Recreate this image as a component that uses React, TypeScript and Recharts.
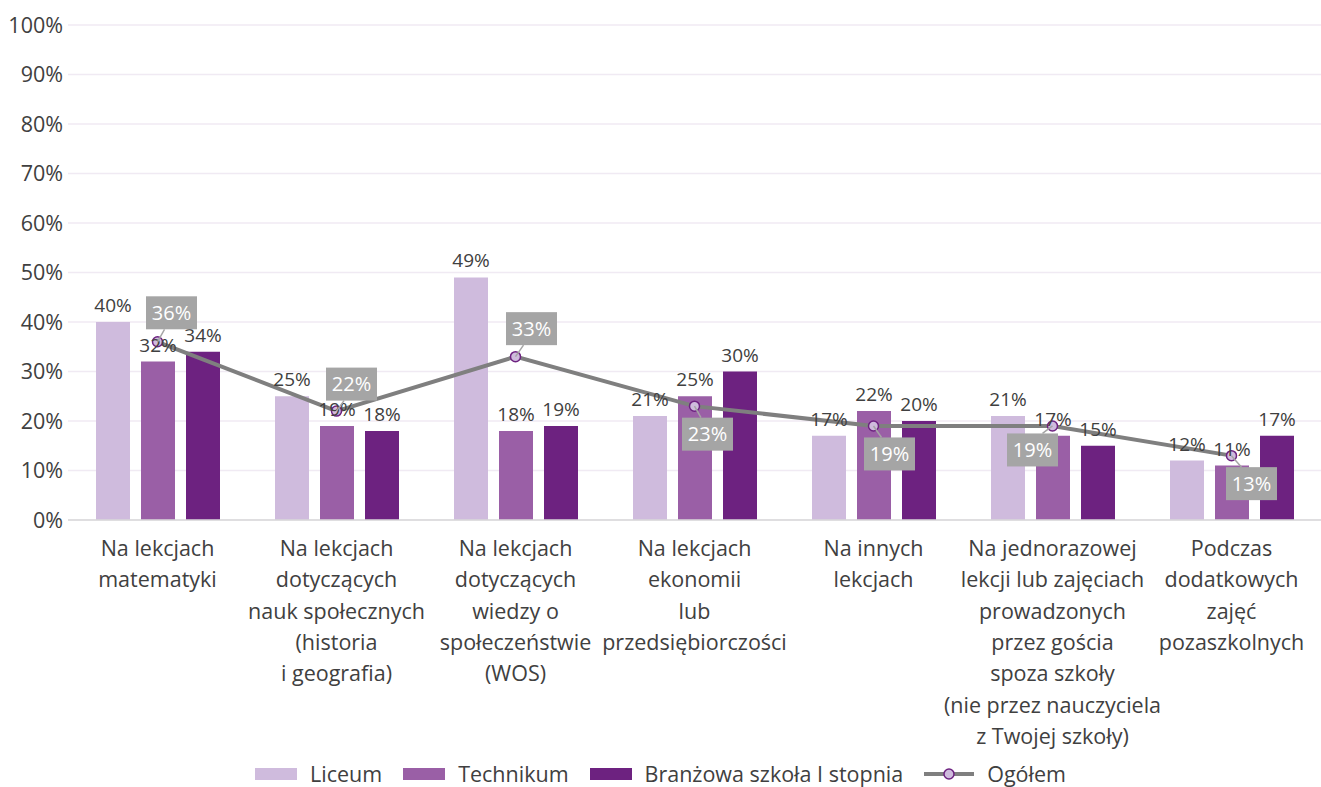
import React from "react";
import {
  ComposedChart,
  Bar,
  Line,
  XAxis,
  YAxis,
  CartesianGrid,
  LabelList,
  Legend,
} from "recharts";

const categories = [
  "Na lekcjach\nmatematyki",
  "Na lekcjach\ndotyczących\nnauk społecznych\n(historia\ni geografia)",
  "Na lekcjach\ndotyczących\nwiedzy o\nspołeczeństwie\n(WOS)",
  "Na lekcjach\nekonomii\nlub\nprzedsiębiorczości",
  "Na innych\nlekcjach",
  "Na jednorazowej\nlekcji lub zajęciach\nprowadzonych\nprzez gościa\nspoza szkoły\n(nie przez nauczyciela\nz Twojej szkoły)",
  "Podczas\ndodatkowych\nzajęć\npozaszkolnych",
];

const liceum = [40, 25, 49, 21, 17, 21, 12];
const technikum = [32, 19, 18, 25, 22, 17, 11];
const branzowa = [34, 18, 19, 30, 20, 15, 17];
const ogolem = [36, 22, 33, 23, 19, 19, 13];

const yTicks = [0, 10, 20, 30, 40, 50, 60, 70, 80, 90, 100];

// where the grey "Ogółem" boxes sit relative to their point
const boxOffsets = [
  [14, -29],
  [15, -27],
  [16, -28],
  [13, 28],
  [16, 28],
  [-20, 24],
  [20, 28],
];

const data = categories.map((name, i) => ({
  name,
  liceum: liceum[i],
  technikum: technikum[i],
  branzowa: branzowa[i],
  ogolem: ogolem[i],
}));

const C_LIC = "#cfbbdd";
const C_TECH = "#9a5fa6";
const C_BRAN = "#6d2280";
const C_LINE = "#7f7f7f";
const TEXT = "#404040";
const FONT = "'Open Sans', 'Noto Sans', sans-serif";

const CatTick = (props: any) => {
  const { x, y, payload } = props;
  const lines = String(payload.value).split("\n");
  return (
    <g transform={`translate(${x},${y})`}>
      {lines.map((l, i) => (
        <text
          key={i}
          x={0}
          y={i * 31.3}
          dy={28}
          textAnchor="middle"
          fill={TEXT}
          fontSize={21.5}
          fontFamily={FONT}
        >
          {l}
        </text>
      ))}
    </g>
  );
};

const BoxLabel = (props: any) => {
  const { x, y, value, index } = props;
  const [dx, dy] = boxOffsets[index];
  const w = 51;
  const h = 33;
  const cx = x + dx;
  const cy = y + dy;
  const ey = dy < 0 ? cy + h / 2 : cy - h / 2;
  return (
    <g>
      <line x1={x} y1={y} x2={x + dx * 0.5} y2={ey} stroke="#a5a5a5" strokeWidth={1.5} />
      <rect x={cx - w / 2} y={cy - h / 2} width={w} height={h} fill="#a5a5a5" />
      <text
        x={cx}
        y={cy}
        dy={7}
        textAnchor="middle"
        fill="#ffffff"
        fontSize={20}
        fontFamily={FONT}
      >
        {value}%
      </text>
    </g>
  );
};

const legendItems = [
  { label: "Liceum", color: C_LIC, type: "bar" },
  { label: "Technikum", color: C_TECH, type: "bar" },
  { label: "Branżowa szkoła I stopnia", color: C_BRAN, type: "bar" },
  { label: "Ogółem", color: C_LINE, type: "line" },
];

const CustomLegend = () => (
  <div
    style={{
      display: "flex",
      justifyContent: "center",
      alignItems: "center",
      gap: 21,
      height: 35,
      boxSizing: "border-box",
      paddingTop: 8,
      fontFamily: FONT,
      fontSize: 21.5,
      color: TEXT,
    }}
  >
    {legendItems.map((it) => (
      <div key={it.label} style={{ display: "flex", alignItems: "center", gap: 13 }}>
        {it.type === "bar" ? (
          <span style={{ width: 42, height: 12, background: it.color, display: "inline-block" }} />
        ) : (
          <svg width={50} height={14}>
            <line x1={0} y1={7} x2={50} y2={7} stroke={C_LINE} strokeWidth={4} />
            <circle cx={25} cy={7} r={5} fill={C_LIC} stroke={C_BRAN} strokeWidth={1.5} />
          </svg>
        )}
        <span style={{ lineHeight: "24px" }}>{it.label}</span>
      </div>
    ))}
  </div>
);

const barLabel = {
  position: "top" as const,
  offset: 10,
  formatter: (v: any) => `${v}%`,
  fill: TEXT,
  fontSize: 19,
  fontFamily: FONT,
};

export default function App() {
  return (
    <div style={{ position: "absolute", left: 0, top: 0, background: "#fff" }}>
      <ComposedChart
        width={1321}
        height={787}
        data={data}
        margin={{ top: 25, right: 0, left: 0, bottom: 0 }}
        barGap={11}
        barSize={34}
      >
        <CartesianGrid vertical={false} stroke="#f0eaf3" strokeWidth={1.5} />
        <XAxis
          dataKey="name"
          interval={0}
          height={232}
          tick={<CatTick />}
          tickLine={false}
          axisLine={{ stroke: "#d9d9d9", strokeWidth: 1.5 }}
        />
        <YAxis
          width={68}
          domain={[0, 100]}
          ticks={yTicks}
          tickFormatter={(v) => `${v}%`}
          axisLine={false}
          tickLine={false}
          tickSize={0}
          tickMargin={5}
          tick={{ fill: TEXT, fontSize: 21.5, fontFamily: FONT }}
        />
        <Legend verticalAlign="bottom" height={35} content={<CustomLegend />} />
        <Bar dataKey="liceum" fill={C_LIC} isAnimationActive={false}>
          <LabelList dataKey="liceum" {...barLabel} />
        </Bar>
        <Bar dataKey="technikum" fill={C_TECH} isAnimationActive={false}>
          <LabelList dataKey="technikum" {...barLabel} />
        </Bar>
        <Bar dataKey="branzowa" fill={C_BRAN} isAnimationActive={false}>
          <LabelList dataKey="branzowa" {...barLabel} />
        </Bar>
        <Line
          dataKey="ogolem"
          stroke={C_LINE}
          strokeWidth={4}
          dot={{ r: 5, fill: C_LIC, stroke: C_BRAN, strokeWidth: 1.5 }}
          activeDot={false}
          isAnimationActive={false}
        >
          <LabelList dataKey="ogolem" content={<BoxLabel />} />
        </Line>
      </ComposedChart>
    </div>
  );
}
